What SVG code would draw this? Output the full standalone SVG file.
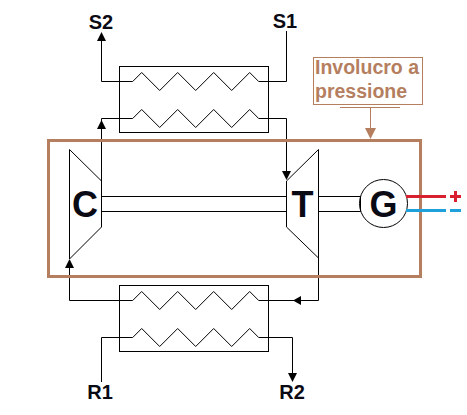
<svg xmlns="http://www.w3.org/2000/svg" width="467" height="415" viewBox="0 0 467 415">
<style>
.l{fill:none;stroke:#000;stroke-width:1}
.t{fill:none;stroke:#000;stroke-width:1}
.a{fill:#000}
.b{fill:none;stroke:#b57f5f}
.lab{font-family:"Liberation Sans",Arial,sans-serif;font-weight:bold;fill:#0a0a14;text-anchor:middle}
.inv{font-family:"Liberation Sans",Arial,sans-serif;font-weight:bold;font-size:19.5px;fill:#b57f5f}
</style>
<rect width="467" height="415" fill="#fff"/>
<g id="connectors">
<path class="l" d="M101.5 38V81.5H132.7"/>
<path class="l" d="M258.7 81.5H286.5V31"/>
<path class="l" d="M101.5 181V118.5H132.7"/>
<path class="l" d="M258.7 118.5H286.5V172"/>
<path class="l" d="M69.5 266V300.5H132.7"/>
<path class="l" d="M258.7 300.5H318.5V258"/>
<path class="l" d="M101.5 382V337.5H132.7"/>
<path class="l" d="M258.7 337.5H292.5V374"/>
<path class="l" d="M101.5 196.5H286.5M101.5 211.5H286.5M318.5 196.5H360.5M318.5 211.5H360.5M360.5 196.5V211.5"/>
<path class="a" d="M101.5 32L106 41H97Z"/>
<path class="a" d="M101.5 120L106 129H97Z"/>
<path class="a" d="M69.5 259L74 268H65Z"/>
<path class="a" d="M286.5 180L282 171H291Z"/>
<path class="a" d="M292.5 382L288 373H297Z"/>
<path class="a" d="M293 300.5L301 296V305Z"/>
</g>
<g id="hx-top">
<rect class="l" x="119.5" y="66.5" width="149" height="66"/>
<path class="t" d="M132.7 81.5L141.7 72.5L159.7 90.5L177.7 72.5L195.7 90.5L213.7 72.5L231.7 90.5L249.7 72.5L258.7 81.5"/>
<path class="t" d="M132.7 118.5L141.7 109.5L159.7 127.5L177.7 109.5L195.7 127.5L213.7 109.5L231.7 127.5L249.7 109.5L258.7 118.5"/>
</g>
<g id="hx-bottom">
<rect class="l" x="119.5" y="285.5" width="149" height="66"/>
<path class="t" d="M132.7 300.5L141.7 291.5L159.7 309.5L177.7 291.5L195.7 309.5L213.7 291.5L231.7 309.5L249.7 291.5L258.7 300.5"/>
<path class="t" d="M132.7 337.5L141.7 328.5L159.7 346.5L177.7 328.5L195.7 346.5L213.7 328.5L231.7 346.5L249.7 328.5L258.7 337.5"/>
</g>
<g id="compressor">
<path class="t" d="M69.5 149.5L101.5 181V227L69.5 259Z"/>
<text class="lab" x="85" y="217" font-size="36">C</text>
</g>
<g id="turbine">
<path class="t" d="M318.5 149.5L286.5 181V227L318.5 258Z"/>
<text class="lab" x="302.5" y="216.5" font-size="36">T</text>
</g>
<g id="generator">
<circle class="t" cx="383.5" cy="203.5" r="24"/>
<text class="lab" x="383.5" y="216.5" font-size="36">G</text>
</g>
<g id="casing">
<rect class="b" x="48.5" y="140.5" width="372" height="136" stroke-width="3"/>
</g>
<g id="terminals">
<path d="M406 196.5H446M450 196.5H461M455.5 191V202" fill="none" stroke="#d8202f" stroke-width="3"/>
<path d="M406 210.5H446M450 210.5H461" fill="none" stroke="#1ea0da" stroke-width="3"/>
</g>
<g id="label-casing">
<rect class="b" x="313.5" y="57.5" width="109" height="47" stroke-width="1"/>
<path class="b" d="M340 107.5H400M370.5 107.5V129" stroke-width="1"/>
<path d="M365 128H376L370.5 139Z" fill="#b57f5f"/>
<text class="inv" x="315" y="73.5">Involucro a</text>
<text class="inv" x="315" y="97.5">pressione</text>
</g>
<g id="ports">
<text class="lab" x="101" y="29" font-size="20">S2</text>
<text class="lab" x="285" y="28" font-size="20">S1</text>
<text class="lab" x="100" y="399" font-size="20">R1</text>
<text class="lab" x="292" y="399" font-size="20">R2</text>
</g>
</svg>
